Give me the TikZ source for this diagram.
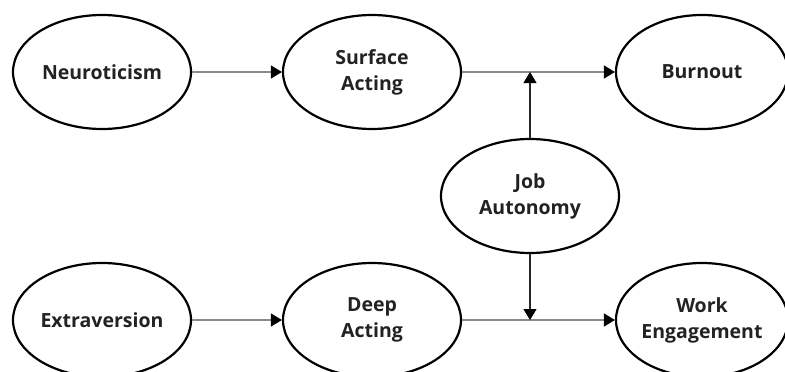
\documentclass[tikz,border=0pt]{standalone}
\usepackage{fontspec}
\setmainfont{Open Sans}
\usetikzlibrary{shapes.geometric,arrows.meta}
\definecolor{txt}{HTML}{222222}
\definecolor{conn}{HTML}{8A8A8A}
\tikzset{
  var/.style={ellipse, draw=black, line width=2.2pt, inner sep=0pt,
    minimum width=178pt, minimum height=114pt, align=center,
    font=\fontsize{19.5}{26}\selectfont\bfseries, text=txt},
  varR/.style={var, minimum width=172pt},
  path/.style={draw=conn, line width=1.1pt, -{Triangle[length=11pt,width=13pt,color=black,fill=black]}},
  modr/.style={draw=black!85, line width=1.1pt, -{Triangle[length=11pt,width=13pt,color=black,fill=black]}}
}
\begin{document}
\begin{tikzpicture}[x=1pt,y=-1pt]
\useasboundingbox (0,0) rectangle (785,372);
\clip (0,0) rectangle (785,372);
\node[var] (neu) at (102,72) {Neuroticism};
\node[var] (sa) at (372,72) {Surface\\Acting};
\node[varR] (bo) at (702,72) {Burnout};
\node[var] (ja) at (530,196) {Job\\Autonomy};
\node[var] (ex) at (102,320) {Extraversion};
\node[var] (da) at (372,320) {Deep\\Acting};
\node[varR] (we) at (702,320) {Work\\Engagement};
\draw[path] (neu.east) -- (sa.west);
\draw[path] (ex.east) -- (da.west);
\draw[path] (sa.east) -- (bo.west);
\draw[path] (da.east) -- (we.west);
\coordinate (m1) at (ja.north |- sa.east);
\coordinate (m2) at (ja.south |- da.east);
\draw[modr] (ja.north) -- (m1);
\draw[modr] (ja.south) -- (m2);
\end{tikzpicture}
\end{document}
